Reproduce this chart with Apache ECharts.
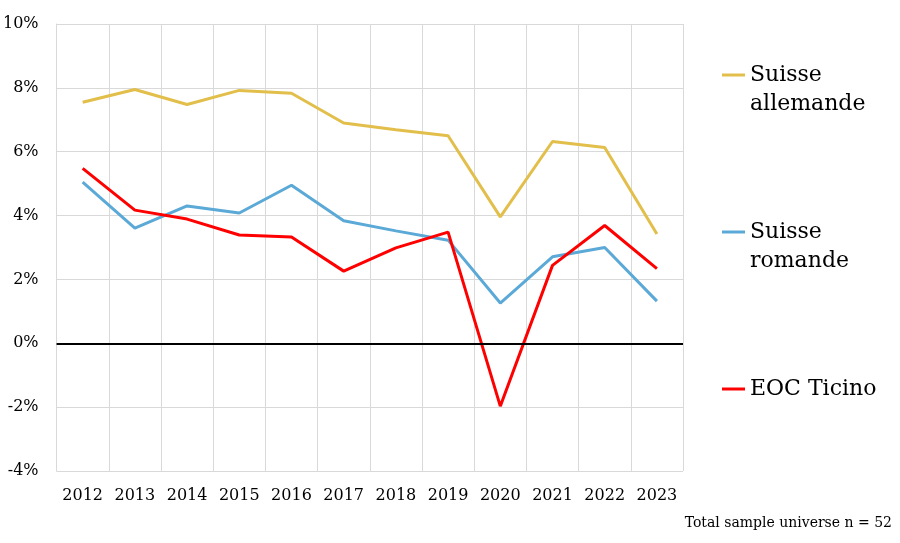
<!DOCTYPE html>
<html>
<head>
<meta charset="utf-8">
<script src="https://cdn.jsdelivr.net/npm/echarts@6/dist/echarts.min.js"></script>
<style>html,body{margin:0;padding:0;background:#fff}#c{width:900px;height:543px}</style>
</head>
<body>
<div id="c"></div>
<script>
const years = ['2012','2013','2014','2015','2016','2017','2018','2019','2020','2021','2022','2023'];
const suisseAllemande = [7.55, 7.95, 7.48, 7.92, 7.83, 6.9, 6.69, 6.5, 3.96, 6.32, 6.13, 3.42];
const suisseRomande = [5.05, 3.61, 4.3, 4.08, 4.95, 3.84, 3.52, 3.23, 1.26, 2.71, 3.0, 1.32];
const eocTicino = [5.48, 4.17, 3.89, 3.39, 3.33, 2.26, 2.99, 3.48, -1.97, 2.44, 3.69, 2.34];
const yTicks = {min: -4, max: 10, interval: 2};
const footnote = 'Total sample universe n = 52';

const FONT = 'DejaVu Serif';
const LH = 29;
const chart = echarts.init(document.getElementById('c'));
function legendFor(name, label, top) {
  return {
    data: [name], orient: 'vertical', left: 717, top: top,
    itemWidth: 23, itemHeight: 3, icon: 'rect',
    formatter: () => label,
    textStyle: {fontFamily: FONT, fontSize: 22, color: '#000', lineHeight: LH}
  };
}
chart.setOption({
  animation: false,
  grid: {left: 55, right: 217, top: 24, bottom: 72},
  legend: [
    legendFor('Suisse allemande', ' \nSuisse\nallemande', 26.5),
    legendFor('Suisse romande', ' \nSuisse\nromande', 183.5),
    legendFor('EOC Ticino', 'EOC Ticino', 369.5)
  ],
  xAxis: {
    type: 'category', data: years, boundaryGap: true,
    axisLine: {show: false}, axisTick: {show: false},
    axisLabel: {interval: 0, fontFamily: FONT, fontSize: 16, color: '#000', margin: 17},
    splitLine: {show: true, interval: 0, lineStyle: {color: '#d9d9d9', width: 1}}
  },
  yAxis: {
    type: 'value', min: yTicks.min, max: yTicks.max, interval: yTicks.interval,
    axisLine: {show: true, lineStyle: {color: '#d9d9d9'}}, axisTick: {show: false},
    axisLabel: {fontFamily: FONT, fontSize: 16, color: '#000', margin: 18, formatter: '{value}%'},
    splitLine: {show: true, lineStyle: {color: '#d9d9d9', width: 1}}
  },
  graphic: [{
    type: 'text', right: 8, top: 516,
    style: {text: footnote, fontFamily: FONT, fontSize: 14, fill: '#000'}
  }],
  series: [
    {name: 'Suisse allemande', type: 'line', data: suisseAllemande, showSymbol: false,
     lineStyle: {width: 3, color: '#E2BE4A'}, itemStyle: {color: '#E2BE4A'},
     markLine: {silent: true, symbol: 'none', label: {show: false},
       lineStyle: {color: '#000', width: 2, type: 'solid'}, data: [{yAxis: 0}]}},
    {name: 'Suisse romande', type: 'line', data: suisseRomande, showSymbol: false,
     lineStyle: {width: 3, color: '#5BA9D7'}, itemStyle: {color: '#5BA9D7'}},
    {name: 'EOC Ticino', type: 'line', data: eocTicino, showSymbol: false,
     lineStyle: {width: 3, color: '#FF0000'}, itemStyle: {color: '#FF0000'}}
  ]
});
</script>
</body>
</html>
